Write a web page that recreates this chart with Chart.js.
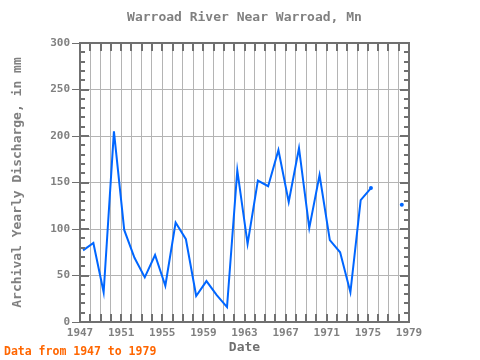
<!DOCTYPE html>
<html>
<head>
<meta charset="utf-8">
<script src="https://cdn.jsdelivr.net/npm/chart.js@4/dist/chart.umd.min.js"></script>
<style>
  html, body { margin: 0; padding: 0; background: #fff; }
  #wrap { width: 480px; height: 360px; }
</style>
</head>
<body>
<div id="wrap"><canvas id="chart" width="480" height="360"></canvas></div>
<script>
const years = [1947, 1948, 1949, 1950, 1951, 1952, 1953, 1954, 1955, 1956,
  1957, 1958, 1959, 1960, 1961, 1962, 1963, 1964, 1965, 1966,
  1967, 1968, 1969, 1970, 1971, 1972, 1973, 1974, 1975, 1976, 1977, 1978];
const discharge = [77, 85, 32, 205, 99, 69, 48, 72, 39, 107,
  89, 28, 44, 29, 16, 163, 84, 152, 146, 185,
  129, 187, 101, 158, 88, 75, 32, 131, 144, null, null, 126];
const yTicks = [0, 50, 100, 150, 200, 250, 300];
const xLabelYears = [1947, 1951, 1955, 1959, 1963, 1967, 1971, 1975, 1979];

// values are plotted a little into each year
const yearOffset = 0.3;
const mono = "'DejaVu Sans Mono', monospace";
const frameColor = "#707070";

const points = years.map((yr, i) => ({ x: yr + yearOffset, y: discharge[i] }));

// dot where a run of values ends (and for single values)
const runEnd = (i) => {
  if (discharge[i] == null) return false;
  return i === discharge.length - 1 || discharge[i + 1] == null;
};

const frame = {
  id: "frame",
  afterDraw(chart) {
    const { ctx, chartArea: a, scales: { x, y } } = chart;
    ctx.save();
    ctx.strokeStyle = frameColor;
    ctx.lineWidth = 2;
    ctx.beginPath();
    for (let yr = 1947; yr <= 1979; yr++) {
      const px = Math.round(x.getPixelForValue(yr));
      ctx.moveTo(px, a.bottom); ctx.lineTo(px, a.bottom - 8);
      ctx.moveTo(px, a.top); ctx.lineTo(px, a.top + 8);
    }
    for (let v = 0; v <= 300; v += 10) {
      const py = Math.round(y.getPixelForValue(v));
      const len = v % 50 === 0 ? 9 : 5;
      ctx.moveTo(a.left, py); ctx.lineTo(a.left + len, py);
      ctx.moveTo(a.right, py); ctx.lineTo(a.right - len, py);
    }
    ctx.stroke();
    ctx.strokeRect(a.left, a.top, a.right - a.left, a.bottom - a.top);

    ctx.fillStyle = "#808080";
    ctx.font = "bold 13px " + mono;
    ctx.textAlign = "center";
    ctx.textBaseline = "middle";
    ctx.fillText("Warroad River Near Warroad, Mn", (a.left + a.right) / 2, 18);

    ctx.fillStyle = "#ff6600";
    ctx.font = "bold 11.5px " + mono;
    ctx.textAlign = "left";
    ctx.fillText("Data from 1947 to 1979", 4, 352);
    ctx.restore();
  }
};

new Chart(document.getElementById("chart"), {
  type: "line",
  data: {
    datasets: [{
      data: points,
      borderColor: "#0066ff",
      backgroundColor: "#0066ff",
      borderWidth: 2,
      pointRadius: (c) => runEnd(c.dataIndex) ? 2 : 0,
      pointBorderWidth: 0,
      spanGaps: false,
      tension: 0
    }]
  },
  options: {
    responsive: false,
    animation: false,
    layout: { padding: { top: 43, right: 71, left: 0, bottom: 0 } },
    plugins: { legend: { display: false }, tooltip: { enabled: false } },
    scales: {
      x: {
        type: "linear",
        min: 1947,
        max: 1979,
        afterFit: (s) => { s.height = 38; },
        afterBuildTicks: (s) => {
          s.ticks = [];
          for (let yr = 1947; yr <= 1979; yr++) s.ticks.push({ value: yr });
        },
        ticks: {
          autoSkip: false,
          maxRotation: 0,
          padding: 5,
          color: "#808080",
          font: { family: mono, size: 11, weight: "bold" },
          callback: (v) => xLabelYears.includes(v) ? String(v) : ""
        },
        grid: { color: "#b4b4b4", lineWidth: 1, drawTicks: false },
        border: { display: false },
        title: {
          display: true,
          text: "Date",
          color: frameColor,
          padding: { top: 0, bottom: 5 },
          font: { family: mono, size: 13, weight: "bold" }
        }
      },
      y: {
        min: 0,
        max: 300,
        afterFit: (s) => { s.width = 80; },
        afterBuildTicks: (s) => { s.ticks = yTicks.map((v) => ({ value: v })); },
        ticks: {
          padding: 2,
          color: "#808080",
          font: { family: mono, size: 11, weight: "bold" }
        },
        grid: { color: "#b4b4b4", lineWidth: 1, tickLength: 8, tickColor: frameColor },
        border: { display: false },
        title: {
          display: true,
          text: "Archival Yearly Discharge, in mm",
          color: "#808080",
          padding: { top: 10, bottom: 0 },
          font: { family: mono, size: 13, weight: "bold" }
        }
      }
    }
  },
  plugins: [frame]
});
</script>
</body>
</html>
